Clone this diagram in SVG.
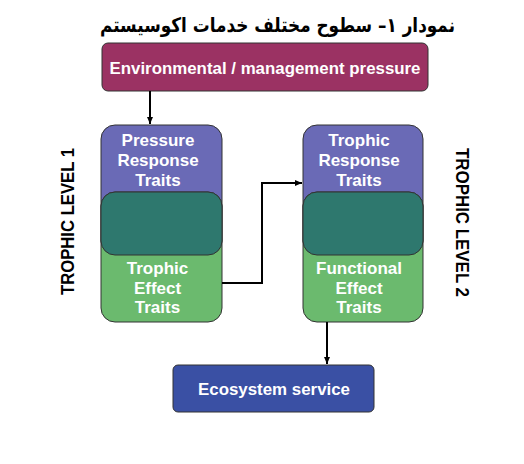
<svg xmlns="http://www.w3.org/2000/svg" width="524" height="464" viewBox="0 0 524 464">
<defs>
<marker id="ah" markerWidth="8" markerHeight="8" refX="7" refY="4" orient="auto" markerUnits="userSpaceOnUse">
<path d="M0,1 L7,4 L0,7 z" fill="#000"/>
</marker>
<style>
.lbl{font-family:"Liberation Sans",Arial,sans-serif;font-weight:bold;fill:#fff;text-anchor:middle;font-size:17px}
.side{font-family:"Liberation Sans",Arial,sans-serif;font-weight:bold;fill:#000;text-anchor:middle;font-size:18px}
.edge{fill:none;stroke:#000;stroke-width:2}
.bd{stroke:#333;stroke-width:1}
</style>
</defs>
<rect width="524" height="464" fill="#fff"/>
<text x="277.5" y="32" font-family="'DejaVu Sans',sans-serif" font-weight="bold" font-size="20" text-anchor="middle" direction="rtl" fill="#000" textLength="355" lengthAdjust="spacingAndGlyphs">نمودار ١– سطوح مختلف خدمات اکوسیستم</text>
<g id="pressure">
<rect class="bd" x="102" y="43" width="326" height="48" rx="6" fill="#9b3263"/>
<text class="lbl" x="265" y="74" font-size="17.5" textLength="311" lengthAdjust="spacingAndGlyphs">Environmental / management pressure</text>
</g>
<g id="level1">
<rect class="bd" x="101" y="125" width="121" height="130" rx="14" fill="#6a6ab6"/>
<rect class="bd" x="101" y="192" width="121" height="130" rx="14" fill="#6bba6e"/>
<rect class="bd" x="101" y="192" width="121" height="63" rx="14" fill="#2e786e"/>
<text class="lbl" x="158" y="146">Pressure</text>
<text class="lbl" x="158" y="166">Response</text>
<text class="lbl" x="158" y="186">Traits</text>
<text class="lbl" x="157.5" y="274">Trophic</text>
<text class="lbl" x="157.5" y="293.5">Effect</text>
<text class="lbl" x="157.5" y="313">Traits</text>
</g>
<g id="level2">
<rect class="bd" x="303" y="125" width="120" height="130" rx="14" fill="#6a6ab6"/>
<rect class="bd" x="303" y="192" width="120" height="130" rx="14" fill="#6bba6e"/>
<rect class="bd" x="303" y="192" width="120" height="63" rx="14" fill="#2e786e"/>
<text class="lbl" x="359" y="146">Trophic</text>
<text class="lbl" x="359" y="166">Response</text>
<text class="lbl" x="359" y="186">Traits</text>
<text class="lbl" x="359" y="274">Functional</text>
<text class="lbl" x="359" y="293.5">Effect</text>
<text class="lbl" x="359" y="313">Traits</text>
</g>
<g id="service">
<rect class="bd" x="173" y="365" width="201" height="47" rx="5" fill="#3a50a4"/>
<text class="lbl" x="274" y="395" font-size="18" textLength="152" lengthAdjust="spacingAndGlyphs">Ecosystem service</text>
</g>
<g id="label1"><text class="side" transform="translate(74,221.5) rotate(-90)" textLength="147" lengthAdjust="spacingAndGlyphs">TROPHIC LEVEL 1</text></g>
<g id="label2"><text class="side" transform="translate(455.5,222.5) rotate(90)" textLength="149" lengthAdjust="spacingAndGlyphs">TROPHIC LEVEL 2</text></g>
<g id="connectors">
<path class="edge" d="M150,91 V124" marker-end="url(#ah)"/>
<path class="edge" d="M222,283 H262 V183 H302" marker-end="url(#ah)"/>
<path class="edge" d="M327,322 V364" marker-end="url(#ah)"/>
</g>
</svg>
